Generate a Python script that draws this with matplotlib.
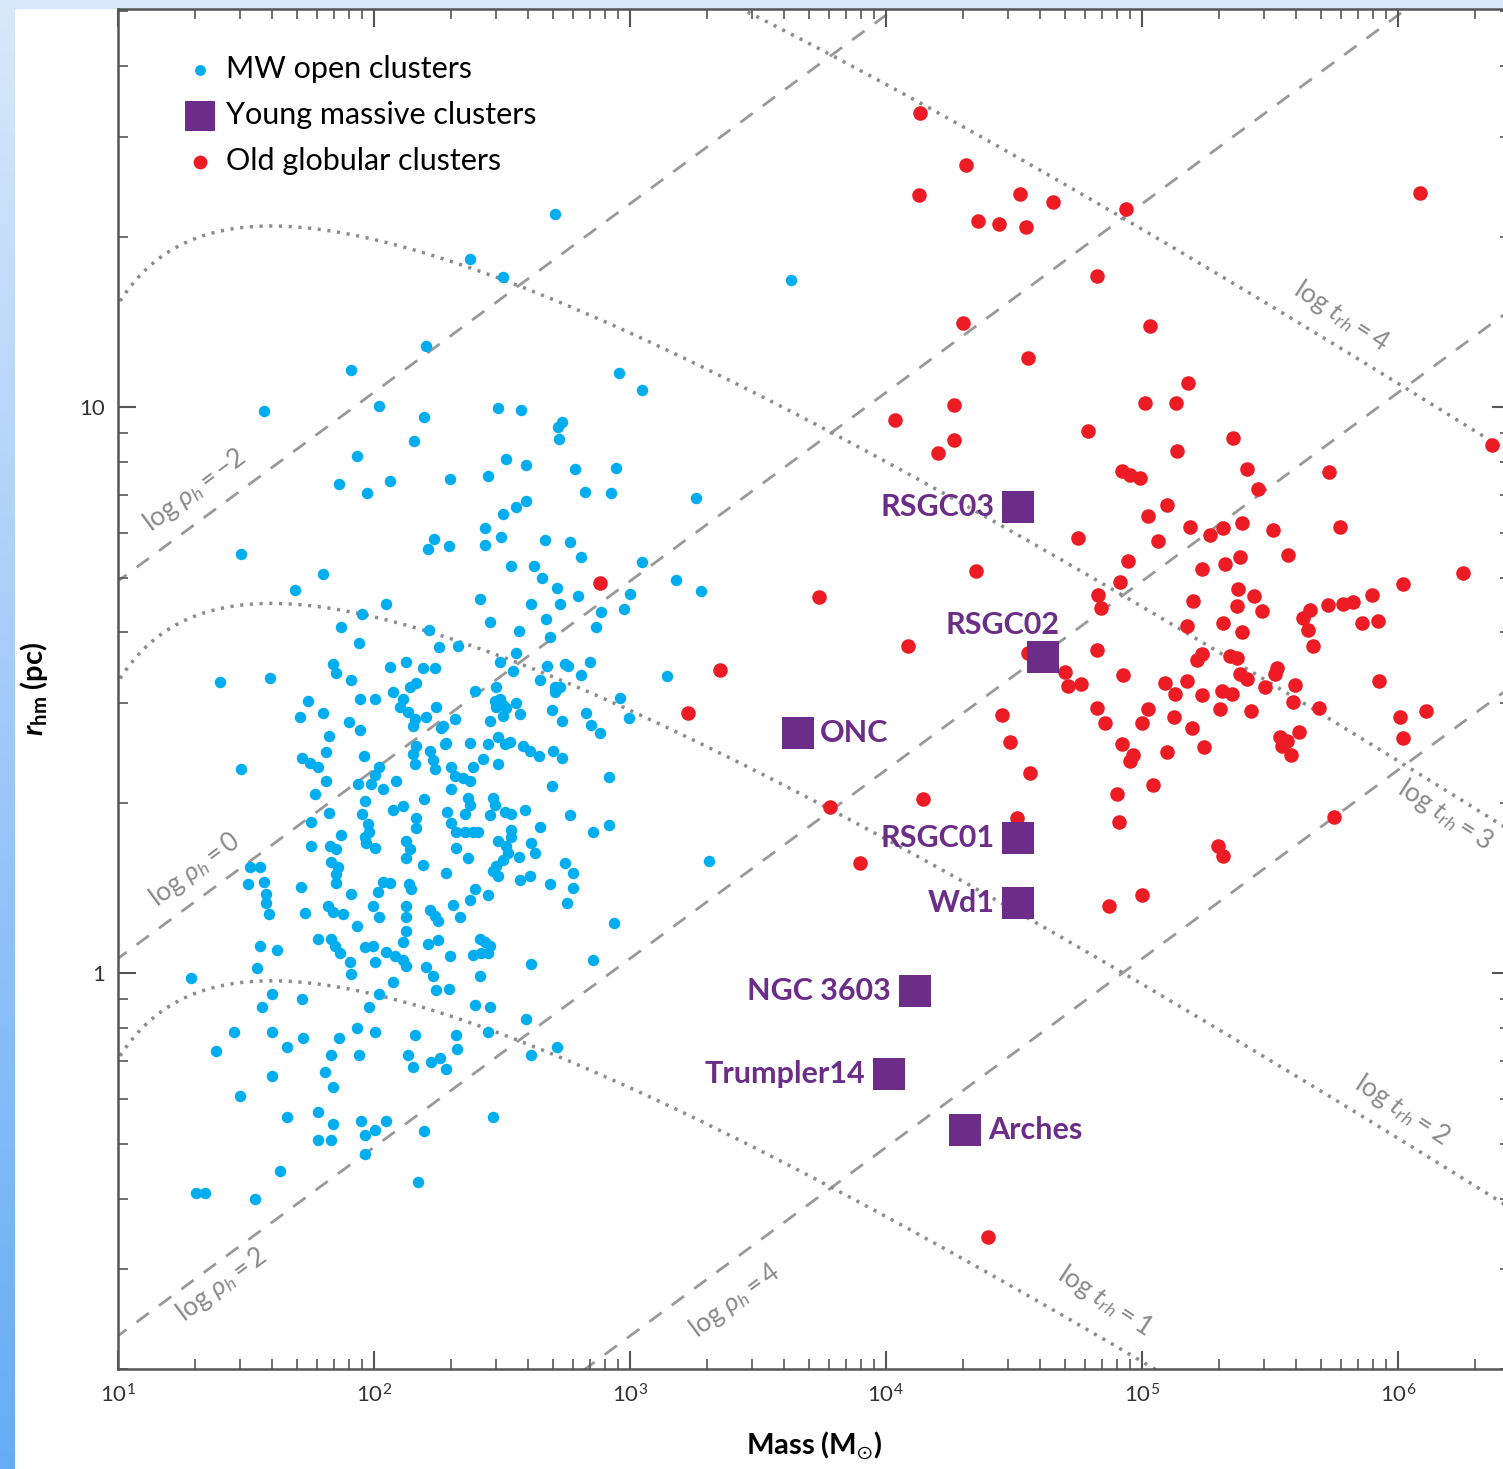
import numpy as np
import matplotlib
matplotlib.use("Agg")
import matplotlib.pyplot as plt
from matplotlib.colors import LinearSegmentedColormap
from matplotlib.patches import Rectangle
from matplotlib.ticker import FixedLocator, FixedFormatter, LogLocator, NullFormatter

plt.rcParams['font.family'] = ['Lato', 'DejaVu Sans']
plt.rcParams['mathtext.fontset'] = 'custom'
plt.rcParams['mathtext.rm'] = 'Lato'
plt.rcParams['mathtext.it'] = 'Lato:italic'
plt.rcParams['mathtext.bf'] = 'Lato:bold'
plt.rcParams['mathtext.bfit'] = 'Lato:italic:bold'
plt.rcParams['mathtext.fallback'] = 'stixsans'

# (log10 M [Msun], log10 r_hm [pc])
mw_open = [
    (2.206, 1.108), (1.913, 1.065), (1.574, 0.993), (2.023, 1.002), (2.195, 0.983), (2.156, 0.940),
    (1.935, 0.914), (1.864, 0.865), (1.975, 0.849), (2.065, 0.869), (2.297, 0.873), (1.483, 0.740),
    (1.802, 0.705), (1.693, 0.677), (2.236, 0.767), (2.214, 0.749), (2.294, 0.754), (2.047, 0.652),
    (1.956, 0.634), (1.874, 0.611), (2.216, 0.606), (1.943, 0.584), (2.255, 0.577), (2.329, 0.578),
    (2.707, 1.341), (2.378, 1.261), (2.505, 1.230), (2.958, 1.061), (3.048, 1.030), (2.486, 0.998),
    (2.577, 0.995), (2.737, 0.974), (2.720, 0.965), (2.724, 0.943), (2.518, 0.909), (2.596, 0.898),
    (2.785, 0.890), (2.948, 0.893), (2.446, 0.879), (2.827, 0.850), (2.926, 0.848), (3.258, 0.839),
    (2.596, 0.834), (2.557, 0.823), (2.505, 0.811), (2.436, 0.786), (2.496, 0.771), (2.436, 0.756),
    (2.668, 0.766), (2.766, 0.761), (2.809, 0.736), (2.535, 0.719), (2.626, 0.720), (2.657, 0.699),
    (3.048, 0.727), (3.179, 0.694), (3.280, 0.675), (2.716, 0.680), (2.798, 0.666), (3.000, 0.670),
    (2.417, 0.662), (2.616, 0.652), (2.727, 0.653), (2.887, 0.638), (2.977, 0.643), (2.456, 0.621),
    (2.675, 0.625), (2.870, 0.611), (2.566, 0.605), (2.688, 0.594), (2.557, 0.566),
    (1.841, 0.547), (1.854, 0.531), (1.913, 0.518), (2.063, 0.541), (2.128, 0.550), (2.193, 0.539),
    (2.238, 0.539), (1.401, 0.514), (1.594, 0.521), (1.743, 0.481), (1.945, 0.485), (2.004, 0.484),
    (1.802, 0.460), (1.714, 0.452), (2.075, 0.496), (2.141, 0.506), (2.167, 0.512), (2.114, 0.484),
    (2.102, 0.471), (2.134, 0.461), (2.160, 0.449), (2.206, 0.452), (2.245, 0.471), (2.154, 0.436),
    (2.264, 0.433), (2.316, 0.449), (1.904, 0.443), (1.945, 0.430), (1.825, 0.419), (1.813, 0.390),
    (1.721, 0.380), (1.750, 0.371), (1.782, 0.365), (1.962, 0.383), (2.164, 0.402), (2.154, 0.388),
    (2.160, 0.370), (2.219, 0.392), (2.232, 0.376), (2.238, 0.361), (2.277, 0.405), (1.483, 0.361),
    (2.023, 0.364), (2.004, 0.351), (1.991, 0.335), (2.036, 0.326), (1.939, 0.334), (2.089, 0.340),
    (1.815, 0.339), (1.773, 0.316), (2.304, 0.364), (2.304, 0.326), (1.965, 0.304), (1.956, 0.282),
    (1.978, 0.263), (1.984, 0.250), (1.965, 0.241), (1.971, 0.231), (2.004, 0.222), (2.075, 0.288),
    (2.114, 0.296), (2.196, 0.308), (2.167, 0.274), (2.167, 0.257), (2.128, 0.234), (2.141, 0.219),
    (2.128, 0.203), (2.193, 0.192), (1.825, 0.283), (1.757, 0.268), (1.874, 0.244), (1.828, 0.225),
    (1.852, 0.219), (1.757, 0.224), (2.304, 0.266), (2.323, 0.250), (2.323, 0.222), (1.835, 0.197),
    (1.861, 0.187), (1.854, 0.175), (1.852, 0.159), (1.516, 0.187), (1.555, 0.187), (1.509, 0.157),
    (1.574, 0.161), (1.581, 0.140), (1.581, 0.125), (1.591, 0.104), (1.715, 0.152), (1.913, 0.140),
    (2.036, 0.162), (2.063, 0.159), (2.017, 0.143), (1.997, 0.118), (2.023, 0.100), (2.138, 0.157),
    (2.147, 0.149), (2.284, 0.178), (1.734, 0.106), (1.821, 0.118), (1.841, 0.108), (1.880, 0.105),
    (1.936, 0.083), (2.128, 0.118), (2.128, 0.099), (2.128, 0.074), (2.219, 0.111), (2.238, 0.102),
    (2.251, 0.093), (2.310, 0.121), (1.782, 0.061), (1.835, 0.061), (1.848, 0.048), (1.867, 0.036),
    (1.906, 0.020), (1.913, -0.002), (1.965, 0.047), (1.997, 0.048), (2.004, 0.020), (2.050, 0.037),
    (2.082, 0.031), (2.114, 0.023), (2.128, 0.012), (2.114, 0.055), (2.212, 0.052), (2.251, 0.058),
    (2.297, 0.030), (2.206, 0.011), (2.232, -0.005), (2.245, -0.030), (2.294, -0.027), (2.075, -0.015),
    (1.555, 0.048), (1.622, 0.041), (1.544, 0.009), (1.288, -0.008), (1.604, -0.037), (1.721, -0.046),
    (1.565, -0.060), (1.984, -0.060), (2.023, -0.037), (1.453, -0.103), (1.604, -0.103), (1.724, -0.114),
    (1.661, -0.131), (1.383, -0.138), (1.864, -0.114), (1.936, -0.097), (2.004, -0.103), (1.835, -0.144),
    (1.943, -0.144), (2.160, -0.109), (2.134, -0.144), (2.154, -0.166), (2.225, -0.157), (2.258, -0.150),
    (2.284, -0.169), (2.323, -0.109), (2.325, -0.134), (1.809, -0.175), (1.841, -0.201), (1.604, -0.182),
    (1.480, -0.216), (1.661, -0.253), (1.782, -0.245), (1.841, -0.267), (1.835, -0.295), (1.782, -0.295),
    (1.952, -0.261), (1.965, -0.286), (2.004, -0.277), (2.047, -0.261), (2.195, -0.278), (1.965, -0.320),
    (1.633, -0.349), (1.307, -0.388), (1.340, -0.388), (1.535, -0.399), (2.173, -0.368),
    (2.492, 0.550), (2.544, 0.534), (2.648, 0.518), (2.677, 0.543), (2.746, 0.547), (2.759, 0.543),
    (2.846, 0.550), (2.811, 0.527), (2.707, 0.506), (2.727, 0.506), (2.707, 0.496), (2.395, 0.498),
    (2.477, 0.506), (2.961, 0.487), (2.997, 0.451), (3.146, 0.525), (2.473, 0.481), (2.492, 0.484),
    (2.505, 0.474), (2.479, 0.471), (2.518, 0.468), (2.557, 0.477), (2.570, 0.458), (2.505, 0.455),
    (2.453, 0.445), (2.698, 0.465), (2.737, 0.446), (2.828, 0.460), (2.850, 0.439), (2.883, 0.424),
    (2.271, 0.436), (2.281, 0.407), (2.375, 0.407), (2.446, 0.405), (2.486, 0.417), (2.512, 0.405),
    (2.531, 0.408), (2.583, 0.402), (2.609, 0.392), (2.646, 0.383), (2.700, 0.392), (2.737, 0.380),
    (2.427, 0.378), (2.388, 0.365), (2.486, 0.369), (2.316, 0.348), (2.349, 0.345), (2.375, 0.340),
    (2.919, 0.346), (2.698, 0.331), (2.368, 0.310), (2.375, 0.298), (2.355, 0.281), (2.466, 0.310),
    (2.473, 0.298), (2.453, 0.279), (2.512, 0.285), (2.538, 0.282), (2.590, 0.288), (2.286, 0.285),
    (2.768, 0.279), (2.648, 0.258), (2.857, 0.250), (2.919, 0.262), (2.355, 0.250), (2.388, 0.249),
    (2.407, 0.250), (2.368, 0.203), (2.538, 0.253), (2.538, 0.241), (2.486, 0.234), (2.518, 0.225),
    (2.525, 0.212), (2.505, 0.200), (2.479, 0.190), (2.466, 0.181), (2.486, 0.171), (2.568, 0.206),
    (2.616, 0.231), (2.629, 0.212), (2.609, 0.171), (2.570, 0.165), (2.688, 0.157), (2.746, 0.195),
    (2.778, 0.178), (2.778, 0.151), (2.757, 0.125), (3.310, 0.199), (2.395, 0.149), (2.375, 0.129),
    (2.446, 0.139), (2.336, 0.100), (2.938, 0.089), (2.414, 0.061), (2.434, 0.055), (2.453, 0.048),
    (2.388, 0.033), (2.421, 0.036), (2.446, 0.036), (2.414, -0.005), (2.616, 0.017), (2.857, 0.024),
    (2.395, -0.056), (2.453, -0.060), (2.596, -0.081), (2.446, -0.103), (2.716, -0.131), (2.616, -0.144),
    (2.466, -0.253), (3.629, 1.224),
]

old_globular = [
    (4.133, 1.520), (4.313, 1.427), (4.129, 1.375), (4.526, 1.377), (4.654, 1.362), (4.361, 1.328),
    (4.441, 1.323), (4.546, 1.319), (4.302, 1.148), (4.554, 1.087), (4.266, 1.004), (4.035, 0.978),
    (4.266, 0.942), (4.204, 0.919), (4.352, 0.710), (3.739, 0.664), (2.883, 0.689), (4.087, 0.578),
    (4.556, 0.566), (4.938, 1.350), (6.086, 1.378), (4.823, 1.231), (5.031, 1.143), (5.181, 1.042),
    (5.012, 1.007), (5.132, 1.007), (4.788, 0.958), (5.357, 0.945), (5.139, 0.922), (4.921, 0.888),
    (4.953, 0.881), (4.992, 0.875), (5.409, 0.891), (5.454, 0.855), (5.730, 0.885), (6.368, 0.934),
    (5.100, 0.827), (5.025, 0.808), (5.188, 0.788), (5.266, 0.774), (5.318, 0.787), (5.392, 0.796),
    (5.513, 0.783), (5.773, 0.788), (4.751, 0.768), (5.064, 0.764), (4.946, 0.728), (5.383, 0.736),
    (5.324, 0.723), (5.233, 0.715), (5.569, 0.739), (6.255, 0.707), (4.914, 0.692), (6.021, 0.687),
    (4.829, 0.668), (4.839, 0.646), (5.374, 0.679), (5.439, 0.667), (5.468, 0.640), (5.372, 0.649),
    (5.198, 0.657), (5.897, 0.668), (5.728, 0.651), (5.786, 0.653), (5.825, 0.655), (5.656, 0.641),
    (5.630, 0.627), (5.650, 0.607), (5.858, 0.618), (5.923, 0.622), (5.175, 0.613), (5.318, 0.618),
    (5.392, 0.602), (5.669, 0.578), (4.823, 0.571), (4.927, 0.527), (4.699, 0.533), (4.712, 0.508),
    (4.764, 0.511), (5.233, 0.564), (5.214, 0.553), (5.344, 0.560), (5.370, 0.557), (5.526, 0.539),
    (5.520, 0.529), (5.383, 0.529), (5.409, 0.520), (5.927, 0.517), (5.090, 0.513), (5.129, 0.493),
    (5.175, 0.517), (5.236, 0.492), (5.311, 0.499), (5.350, 0.494), (5.480, 0.506), (5.598, 0.510),
    (5.591, 0.480), (5.693, 0.468), (4.823, 0.468), (4.855, 0.442), (5.025, 0.466), (4.999, 0.442),
    (5.126, 0.452), (5.194, 0.433), (5.305, 0.466), (5.425, 0.463), (6.008, 0.452), (6.021, 0.415),
    (6.108, 0.463), (4.921, 0.405), (4.966, 0.386), (4.953, 0.375), (5.100, 0.391), (5.243, 0.400),
    (5.539, 0.417), (5.565, 0.410), (5.614, 0.426), (5.546, 0.401), (5.581, 0.386), (5.042, 0.333),
    (4.901, 0.317), (4.911, 0.267), (5.750, 0.276), (5.298, 0.224), (5.318, 0.208), (5.001, 0.138),
    (4.871, 0.119), (3.352, 0.536), (3.228, 0.459), (4.454, 0.456), (4.487, 0.408), (4.563, 0.354),
    (4.146, 0.307), (3.784, 0.293), (4.511, 0.274), (3.901, 0.194), (4.400, -0.465),
]

ymc_names = ['RSGC03', 'RSGC02', 'ONC', 'RSGC01', 'Wd1', 'NGC 3603', 'Trumpler14', 'Arches']
ymc_logm = [4.516, 4.613, 3.656, 4.516, 4.516, 4.113, 4.012, 4.309]
ymc_logr = [0.823, 0.558, 0.424, 0.239, 0.124, -0.032, -0.178, -0.276]

rho_levels = [-2, 0, 2, 4]   # log half-mass density, Msun/pc^3
trh_levels = [1, 2, 3, 4]    # log half-mass relaxation time, Myr

blue = '#00aeef'
red = '#ed1c24'
purple = '#6b2d87'
grey = '#999999'

fig = plt.figure(figsize=(15.03, 14.69), dpi=100)
fig.patch.set_facecolor('white')

# slide background strips
strip = fig.add_axes([0, 0, 15 / 1503, 1])
cmap = LinearSegmentedColormap.from_list('bg', ['#d8e8fb', '#66acf5'])
strip.imshow(np.linspace(0, 1, 256)[:, None], aspect='auto', cmap=cmap, extent=[0, 1, 0, 1])
strip.axis('off')
fig.add_artist(Rectangle((0, 1 - 8 / 1469), 1, 8 / 1469, transform=fig.transFigure,
                         color='#d9e8fb', zorder=0))

ax = fig.add_axes([117.5 / 1503, 1 - 1369 / 1469, (1510 - 117.5) / 1503, 1360 / 1469])
ax.set_xscale('log')
ax.set_yscale('log')
ax.set_xlim(10, 10 ** 6.4375)
ax.set_ylim(0.2, 50.5)

# reference lines
mgrid = np.logspace(0.9, 6.6, 600)
for lr in rho_levels:
    r = (3 * mgrid / (8 * np.pi * 10.0 ** lr)) ** (1 / 3)
    ax.plot(mgrid, r, ls=(0, (5.5, 4.5)), color=grey, lw=2, zorder=1)

G = 4.5e-3
m_mean = 0.62
gamma = 0.115
n = mgrid / m_mean
lnlam = np.log(gamma * n)
ok = lnlam > 0.05
for lt in trh_levels:
    r = (10.0 ** lt * np.sqrt(m_mean * G) * lnlam[ok] / (0.138 * np.sqrt(n[ok]))) ** (2 / 3)
    ax.plot(mgrid[ok], r, ls=(0, (0.9, 1.9)), color='#8c8c8c', lw=2.5, zorder=1)

oc = np.array(mw_open)
gc = np.array(old_globular)
ax.scatter(10 ** oc[:, 0], 10 ** oc[:, 1], s=68, color=blue, lw=0, zorder=3, label='MW open clusters')
ax.scatter(10 ** np.array(ymc_logm), 10 ** np.array(ymc_logr), s=540, marker='s', color=purple,
           lw=0, zorder=4, label='Young massive clusters')
ax.scatter(10 ** gc[:, 0], 10 ** gc[:, 1], s=110, color=red, lw=0, zorder=3, label='Old globular clusters')

label_style = {
    'RSGC03': ((-17, 0), 'right'), 'RSGC02': ((12, 23), 'right'), 'ONC': ((16, 0), 'left'),
    'RSGC01': ((-17, 0), 'right'), 'Wd1': ((-17, 0), 'right'), 'NGC 3603': ((-17, 0), 'right'),
    'Trumpler14': ((-17, 0), 'right'), 'Arches': ((17, 0), 'left'),
}
for name, lm, lr in zip(ymc_names, ymc_logm, ymc_logr):
    off, ha = label_style[name]
    ax.annotate(name, (10 ** lm, 10 ** lr), xytext=off, textcoords='offset points',
                ha=ha, va='center', fontsize=22, fontweight='bold', color=purple, zorder=5)

# line labels
rho_text = [(20, 7.13), (20, 1.52), (25.5, 0.281), (2570, 0.264)]
for lr, (mx, ry) in zip(rho_levels, rho_text):
    ax.text(mx, ry, r'log $\rho_h = %d$' % lr, rotation=36.5, ha='center', va='center',
            fontsize=19, color='#8a8a8a', rotation_mode='anchor')
trh_text = [(7.16e4, 0.264), (1.04e6, 0.573), (1.53e6, 1.90), (6.0e5, 14.5)]
for lt, (mx, ry) in zip(trh_levels, trh_text):
    ax.text(mx, ry, r'log $t_{rh} = %d$' % lt, rotation=-33, ha='center', va='center',
            fontsize=19, color='#8a8a8a', rotation_mode='anchor')

ax.legend(loc='upper left', bbox_to_anchor=(0.0505, 0.966), frameon=False, fontsize=22,
          handlelength=0.8, handletextpad=0.45, labelspacing=0.58, borderpad=0, borderaxespad=0,
          scatterpoints=1, markerscale=0.95)

# axes styling
xt = [1e1, 1e2, 1e3, 1e4, 1e5, 1e6]
ax.xaxis.set_major_locator(FixedLocator(xt))
ax.xaxis.set_major_formatter(FixedFormatter([r'$\mathregular{10^{%d}}$' % k for k in range(1, 7)]))
ax.xaxis.set_minor_locator(LogLocator(base=10, subs=np.arange(2, 10), numticks=20))
ax.xaxis.set_minor_formatter(NullFormatter())
ax.yaxis.set_major_locator(FixedLocator([1, 10]))
ax.yaxis.set_major_formatter(FixedFormatter(['1', '10']))
ax.yaxis.set_minor_locator(LogLocator(base=10, subs=np.arange(2, 10), numticks=20))
ax.yaxis.set_minor_formatter(NullFormatter())

ax.tick_params(which='major', direction='in', length=13, width=1.5, top=True, right=True,
               labelsize=16, labelcolor='#333333', color='#555555')
ax.tick_params(which='minor', direction='in', length=7, width=1.2, top=True, right=True, color='#555555')
ax.tick_params(axis='x', which='major', pad=10)
ax.tick_params(axis='y', which='major', pad=9)
for s in ax.spines.values():
    s.set_linewidth(1.8)
    s.set_color('#555555')

ax.set_xlabel(r'Mass (M$_{\odot}$)', fontsize=21, fontweight='bold', labelpad=17)
ax.set_ylabel(r'$\mathbfit{r}_{\mathbf{hm}}$ (pc)', fontsize=21, fontweight='bold', labelpad=21)

fig.savefig('out.png', dpi=100)
